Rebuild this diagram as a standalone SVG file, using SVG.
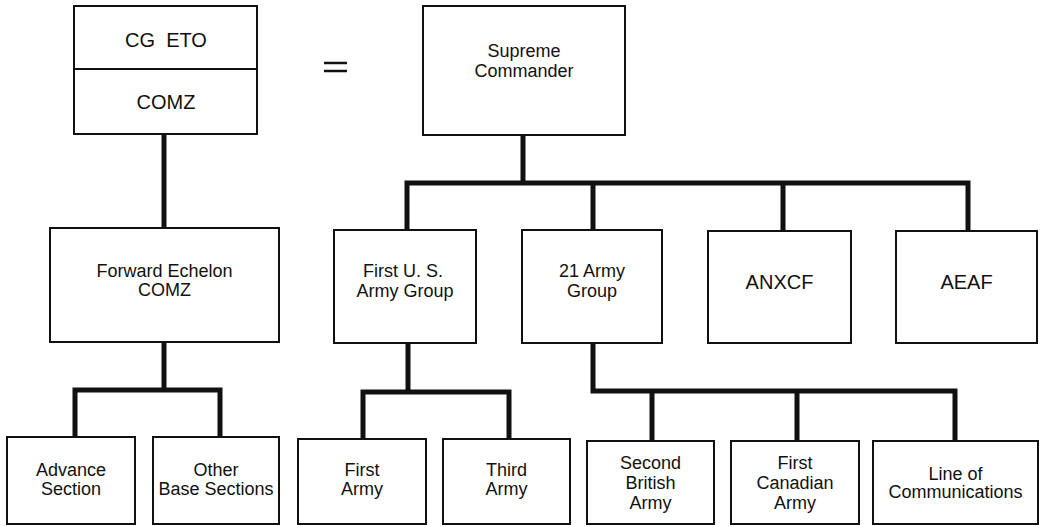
<svg xmlns="http://www.w3.org/2000/svg" width="1042" height="526" viewBox="0 0 1042 526">
<style>
.box{fill:#fff;stroke:#111;stroke-width:2}
.t{font-family:"Liberation Sans",Arial,sans-serif;font-size:18px;fill:#111;text-anchor:middle}
.big{font-size:20px}
.conn{fill:none;stroke:#111;stroke-width:5;stroke-linejoin:miter}
</style>
<rect width="1042" height="526" fill="#fff"/>
<g id="connectors">
<path class="conn" d="M164,134V228"/>
<path class="conn" d="M164,342V390M75,437V390H220V437"/>
<path class="conn" d="M523,135V183"/>
<path class="conn" d="M407,230V183H968V230M593,183V230M783,183V230"/>
<path class="conn" d="M408,343V392M363,439V392H509V439"/>
<path class="conn" d="M593,343V391H955V441M652,391V441M797,391V441"/>
<path d="M324,63H347M324,71H347" stroke="#111" stroke-width="2.6"/>
</g>
<g id="cg-eto-comz">
<rect class="box" x="74" y="6" width="183" height="128"/>
<line x1="74" y1="69" x2="257" y2="69" stroke="#111" stroke-width="2"/>
<text class="t big" x="166" y="47" xml:space="preserve">CG  ETO</text>
<text class="t big" x="166" y="109">COMZ</text>
</g>
<g id="supreme-commander">
<rect class="box" x="423" y="6" width="202" height="129"/>
<text class="t" x="524" y="57">Supreme</text>
<text class="t" x="524" y="77">Commander</text>
</g>
<g id="forward-echelon">
<rect class="box" x="50" y="228" width="229" height="114"/>
<text class="t" x="164.5" y="277">Forward Echelon</text>
<text class="t" x="164.5" y="296">COMZ</text>
</g>
<g id="first-us-army-group">
<rect class="box" x="334" y="230" width="142" height="113"/>
<text class="t" x="403" y="277">First U. S.</text>
<text class="t" x="405" y="297">Army Group</text>
</g>
<g id="army-group-21">
<rect class="box" x="522" y="230" width="140" height="113"/>
<text class="t" x="592" y="277">21 Army</text>
<text class="t" x="592" y="297">Group</text>
</g>
<g id="anxcf">
<rect class="box" x="708" y="231" width="143" height="112"/>
<text class="t big" x="779.5" y="289">ANXCF</text>
</g>
<g id="aeaf">
<rect class="box" x="896" y="231" width="141" height="112"/>
<text class="t big" x="966.5" y="289">AEAF</text>
</g>
<g id="advance-section">
<rect class="box" x="7" y="437" width="128" height="87"/>
<text class="t" x="71" y="476">Advance</text>
<text class="t" x="71" y="495">Section</text>
</g>
<g id="other-base-sections">
<rect class="box" x="153" y="437" width="126" height="87"/>
<text class="t" x="216" y="476">Other</text>
<text class="t" x="216" y="495">Base Sections</text>
</g>
<g id="first-army">
<rect class="box" x="298" y="439" width="128" height="85"/>
<text class="t" x="362" y="476">First</text>
<text class="t" x="362" y="495">Army</text>
</g>
<g id="third-army">
<rect class="box" x="443" y="439" width="127" height="85"/>
<text class="t" x="506.5" y="476">Third</text>
<text class="t" x="506.5" y="495">Army</text>
</g>
<g id="second-british-army">
<rect class="box" x="587" y="441" width="127" height="83"/>
<text class="t" x="650.5" y="469">Second</text>
<text class="t" x="650.5" y="489">British</text>
<text class="t" x="650.5" y="509">Army</text>
</g>
<g id="first-canadian-army">
<rect class="box" x="731" y="441" width="128" height="83"/>
<text class="t" x="795" y="469">First</text>
<text class="t" x="795" y="489">Canadian</text>
<text class="t" x="795" y="509">Army</text>
</g>
<g id="line-of-communications">
<rect class="box" x="873" y="441" width="165" height="83"/>
<text class="t" x="955.5" y="480">Line of</text>
<text class="t" x="955.5" y="498">Communications</text>
</g>
</svg>
